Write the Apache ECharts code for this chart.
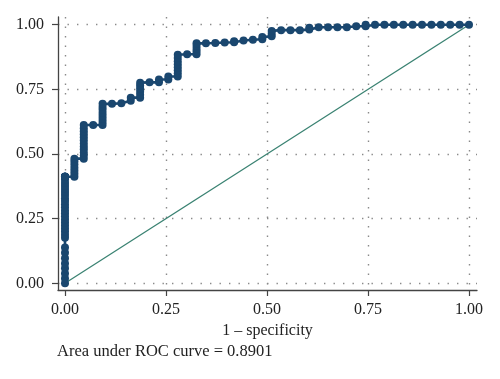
<!DOCTYPE html>
<html>
<head>
<meta charset="utf-8">
<script src="https://cdn.jsdelivr.net/npm/echarts@6/dist/echarts.min.js"></script>
<style>
html,body{margin:0;padding:0;background:#fff;}
#chart{width:500px;height:379px;}
</style>
</head>
<body>
<div id="chart"></div>
<script>
// 1 - specificity (false positive rate) for each ROC point
var fpr = [
  0,0,0,0,0,0,0,0,0,0,0,0,0,0,0,0,0,0,0,0,0,0,0,0,0,0,0,0,0,0,0,0,0,0,0,
  0.0233,0.0233,0.0233,0.0233,0.0233,0.0233,0.0233,
  0.0465,0.0465,0.0465,0.0465,0.0465,0.0465,0.0465,0.0465,0.0465,0.0465,0.0465,0.0465,
  0.0698,
  0.093,0.093,0.093,0.093,0.093,0.093,0.093,0.093,
  0.1163,
  0.1395,
  0.1628,0.1628,
  0.186,0.186,0.186,0.186,0.186,0.186,
  0.2093,
  0.2326,0.2326,
  0.2558,0.2558,
  0.2791,0.2791,0.2791,0.2791,0.2791,0.2791,0.2791,0.2791,
  0.3023,
  0.3256,0.3256,0.3256,0.3256,0.3256,
  0.3488,
  0.3721,
  0.3953,
  0.4186,0.4186,
  0.4419,
  0.4651,
  0.4884,0.4884,
  0.5116,0.5116,0.5116,
  0.5349,
  0.5581,
  0.5814,
  0.6047,0.6047,
  0.6279,
  0.6512,
  0.6744,
  0.6977,
  0.7209,
  0.7442,0.7442,
  0.7674,
  0.7907,
  0.814,
  0.8372,
  0.8605,
  0.8837,
  0.907,
  0.9302,
  0.9535,
  0.9767,
  1
];
// sensitivity (true positive rate) for each ROC point
var tpr = [
  0,0.019,0.038,0.058,0.077,0.097,0.118,0.138,0.176,0.188,0.2,0.212,0.224,0.235,0.247,0.259,0.271,0.282,0.294,0.306,0.318,0.329,0.341,0.353,0.365,0.376,0.388,0.4,0.412,0.412,0.412,0.412,0.412,0.412,0.412,
  0.412,0.424,0.435,0.447,0.459,0.471,0.482,
  0.482,0.494,0.506,0.518,0.529,0.541,0.553,0.565,0.576,0.588,0.6,0.612,
  0.612,
  0.612,0.624,0.635,0.647,0.659,0.671,0.682,0.694,
  0.694,
  0.696,
  0.706,0.718,
  0.718,0.729,0.741,0.753,0.765,0.776,
  0.777,
  0.777,0.788,
  0.788,0.8,
  0.8,0.812,0.824,0.835,0.847,0.859,0.871,0.884,
  0.886,
  0.886,0.896,0.906,0.918,0.928,
  0.928,
  0.929,
  0.931,
  0.932,0.936,
  0.939,
  0.942,
  0.944,0.952,
  0.955,0.965,0.976,
  0.979,
  0.979,
  0.979,
  0.981,0.988,
  0.99,
  0.99,
  0.99,
  0.99,
  0.994,
  0.994,1,
  1,
  1,
  1,
  1,
  1,
  1,
  1,
  1,
  1,
  1,
  1
];
// reference diagonal
var diagX = [0, 1];
var diagY = [0, 1];
var tickValues = [0, 0.25, 0.5, 0.75, 1];
var xTitle = '1 \u2013 specificity';
var footnote = 'Area under ROC curve = 0.8901';

var rocData = fpr.map(function (x, i) { return [x, tpr[i]]; });
var diagData = diagX.map(function (x, i) { return [x, diagY[i]]; });

var FONT = 'Liberation Serif';
var gridLine = { show: true, lineStyle: { color: '#8a8a8a', width: 1.4, type: [1.4, 8.1] } };

var chart = echarts.init(document.getElementById('chart'), null, { renderer: 'canvas' });
chart.setOption({
  animation: false,
  backgroundColor: '#ffffff',
  title: {
    text: footnote,
    left: 57, top: 343, padding: 0,
    textStyle: { fontFamily: FONT, fontSize: 16.5, fontWeight: 'normal', color: '#222' }
  },
  grid: { left: 58, right: 23, top: 17, bottom: 89, containLabel: false },
  xAxis: {
    type: 'value', min: -0.0173, max: 1.0198,
    name: xTitle, nameLocation: 'middle', nameGap: 33,
    nameTextStyle: { fontFamily: FONT, fontSize: 16, color: '#222' },
    axisLine: { show: true, onZero: false, lineStyle: { color: '#444', width: 1.3 } },
    axisTick: { show: true, length: 6, customValues: tickValues, lineStyle: { color: '#444', width: 1.2 } },
    axisLabel: { customValues: tickValues, margin: 12, fontFamily: FONT, fontSize: 16, color: '#222',
      formatter: function (v) { return v.toFixed(2); } },
    splitLine: gridLine
  },
  yAxis: {
    type: 'value', min: -0.0259, max: 1.0298,
    axisLine: { show: true, onZero: false, lineStyle: { color: '#444', width: 1.3 } },
    axisTick: { show: true, length: 6, customValues: tickValues, lineStyle: { color: '#444', width: 1.2 } },
    axisLabel: { customValues: tickValues, margin: 14, fontFamily: FONT, fontSize: 16, color: '#222',
      formatter: function (v) { return v.toFixed(2); } },
    splitLine: gridLine
  },
  series: [
    {
      type: 'line', data: diagData, symbol: 'none', silent: true,
      lineStyle: { color: '#3a8272', width: 1.3 }, z: 2
    },
    {
      type: 'line', data: rocData, symbol: 'circle', symbolSize: 8, showSymbol: true,
      showAllSymbol: true,
      itemStyle: { color: '#1a476f' },
      lineStyle: { color: '#1a476f', width: 2.6 }, z: 3
    }
  ]
});
</script>
</body>
</html>
